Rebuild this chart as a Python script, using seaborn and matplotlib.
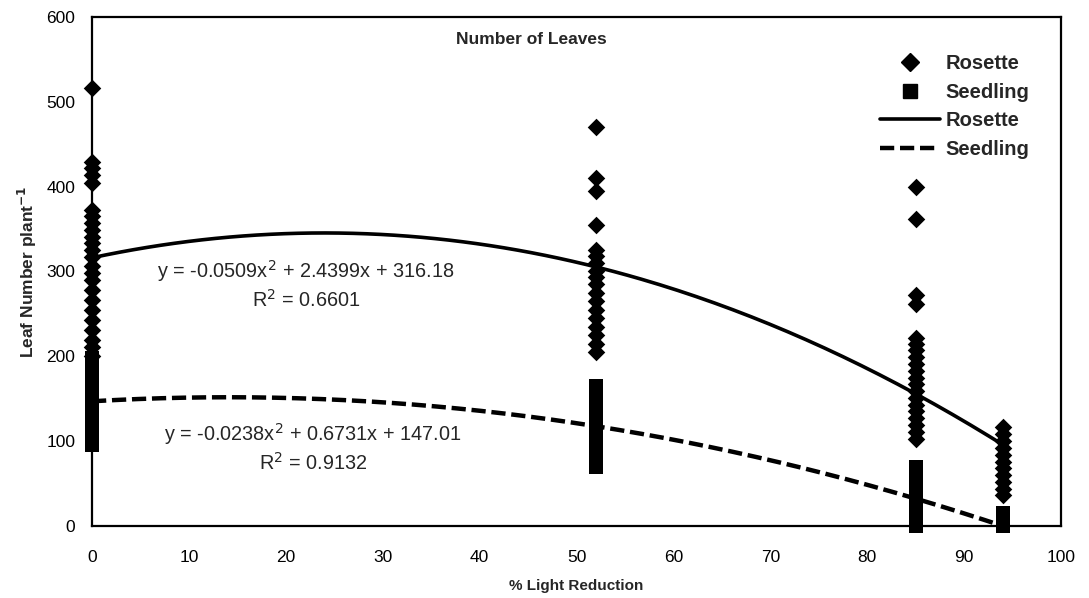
import numpy as np
import pandas as pd
import matplotlib
matplotlib.use("Agg")
import matplotlib.pyplot as plt
import seaborn as sns
from matplotlib.lines import Line2D

# ---- data ----
light_levels = [0, 52, 85, 94]

rosette_0 = [516, 429, 422, 414, 404, 372, 365, 357, 349, 341, 333, 325, 317,
             306, 298, 290, 278, 266, 255, 243, 231, 219, 211, 200]
rosette_52 = [470, 410, 395, 355, 325, 318, 310, 300, 293, 285, 275, 265, 255,
              245, 235, 225, 215, 205]
rosette_85 = [400, 362, 272, 262, 222, 215, 207, 199, 191, 183, 175, 167, 159,
              151, 143, 135, 127, 119, 111, 103]
rosette_94 = [117, 108, 100, 92, 84, 76, 68, 60, 52, 44, 36]

seedling_0 = [198, 190, 182, 174, 166, 158, 150, 142, 134, 126, 118, 110, 102, 95]
seedling_52 = [165, 157, 149, 141, 133, 125, 117, 109, 101, 93, 85, 77, 70]
seedling_85 = [70, 62, 54, 46, 38, 30, 22, 14, 7, 0]
seedling_94 = [15, 10, 5, 0]

# quadratic trendline coefficients printed on the chart (a, b, c)
rosette_coef = [-0.0509, 2.4399, 316.18]
seedling_coef = [-0.0238, 0.6731, 147.01]
rosette_r2 = "0.6601"
seedling_r2 = "0.9132"

x_ticks = [0, 10, 20, 30, 40, 50, 60, 70, 80, 90, 100]
y_ticks = [0, 100, 200, 300, 400, 500, 600]

# ---- build long table ----
rows = []
for lvl, vals in zip(light_levels, [rosette_0, rosette_52, rosette_85, rosette_94]):
    rows += [(lvl, v, "Rosette") for v in vals]
for lvl, vals in zip(light_levels, [seedling_0, seedling_52, seedling_85, seedling_94]):
    rows += [(lvl, v, "Seedling") for v in vals]
df = pd.DataFrame(rows, columns=["light", "leaves", "stage"])

xs = np.linspace(0, 94, 200)
fit = pd.DataFrame({
    "light": np.concatenate([xs, xs]),
    "leaves": np.concatenate([np.polyval(rosette_coef, xs), np.polyval(seedling_coef, xs)]),
    "stage": ["Rosette"] * len(xs) + ["Seedling"] * len(xs),
})

sns.set_theme(style="white")
plt.rcParams["font.family"] = ["Liberation Sans", "DejaVu Sans"]

fig = plt.figure(figsize=(10.89, 5.98), dpi=100)
ax = fig.add_axes([0.0845, 0.1204, 0.8898, 0.8512])

sns.lineplot(data=fit[fit.stage == "Rosette"], x="light", y="leaves", ax=ax,
             color="black", lw=2.6, legend=False)
sns.lineplot(data=fit[fit.stage == "Seedling"], x="light", y="leaves", ax=ax,
             color="black", lw=3.2, legend=False, dashes=False)
ax.lines[-1].set_dashes((3.2, 1.3))

sns.scatterplot(data=df[df.stage == "Seedling"], x="light", y="leaves", ax=ax,
                marker="s", s=100, color="black", edgecolor="black", linewidth=0,
                legend=False, zorder=3, clip_on=False)
sns.scatterplot(data=df[df.stage == "Rosette"], x="light", y="leaves", ax=ax,
                marker="D", s=80, color="black", edgecolor="black", linewidth=0,
                legend=False, zorder=4, clip_on=False)

ax.set_xlim(0, 100)
ax.set_ylim(0, 600)
ax.set_xticks(x_ticks)
ax.set_yticks(y_ticks)
ax.tick_params(axis="both", length=0, labelsize=12.5, colors="black")
ax.tick_params(axis="x", pad=17)
ax.tick_params(axis="y", pad=12)
for s in ax.spines.values():
    s.set_color("black")
    s.set_linewidth(1.6)
    s.set_visible(True)
ax.grid(False)

ax.set_xlabel("% Light Reduction", fontsize=11, fontweight="bold")
ax.set_ylabel("Leaf Number plant$^{\\mathbf{-1}}$", fontsize=12.5, fontweight="bold")
ax.xaxis.set_label_coords(0.5, -0.105)
ax.yaxis.set_label_coords(-0.055, 0.499)

ax.text(45.3, 573, "Number of Leaves", fontsize=12.5, fontweight="bold",
        ha="center", va="center")

eq_size = 14.3
ax.text(22.1, 300, "y = -0.0509x$^2$ + 2.4399x + 316.18", fontsize=eq_size,
        ha="center", va="center")
ax.text(22.1, 267, f"R$^2$ = {rosette_r2}", fontsize=eq_size, ha="center", va="center")
ax.text(22.8, 108, "y = -0.0238x$^2$ + 0.6731x + 147.01", fontsize=eq_size,
        ha="center", va="center")
ax.text(22.8, 75, f"R$^2$ = {seedling_r2}", fontsize=eq_size, ha="center", va="center")

handles = [
    Line2D([], [], marker="D", ls="none", color="black", markersize=9),
    Line2D([], [], marker="s", ls="none", color="black", markersize=9.5),
    Line2D([], [], ls="-", color="black", lw=2.6),
    Line2D([], [], ls=(0, (3.2, 1.3)), color="black", lw=3.2),
]
labels = ["Rosette", "Seedling", "Rosette", "Seedling"]
leg = ax.legend(handles, labels, loc="upper left", bbox_to_anchor=(0.813, 0.927),
                frameon=False, handlelength=3.0, handletextpad=0.25,
                labelspacing=0.48, borderpad=0, borderaxespad=0,
                prop={"weight": "bold", "size": 14.5})

fig.savefig("out.png", dpi=100)
